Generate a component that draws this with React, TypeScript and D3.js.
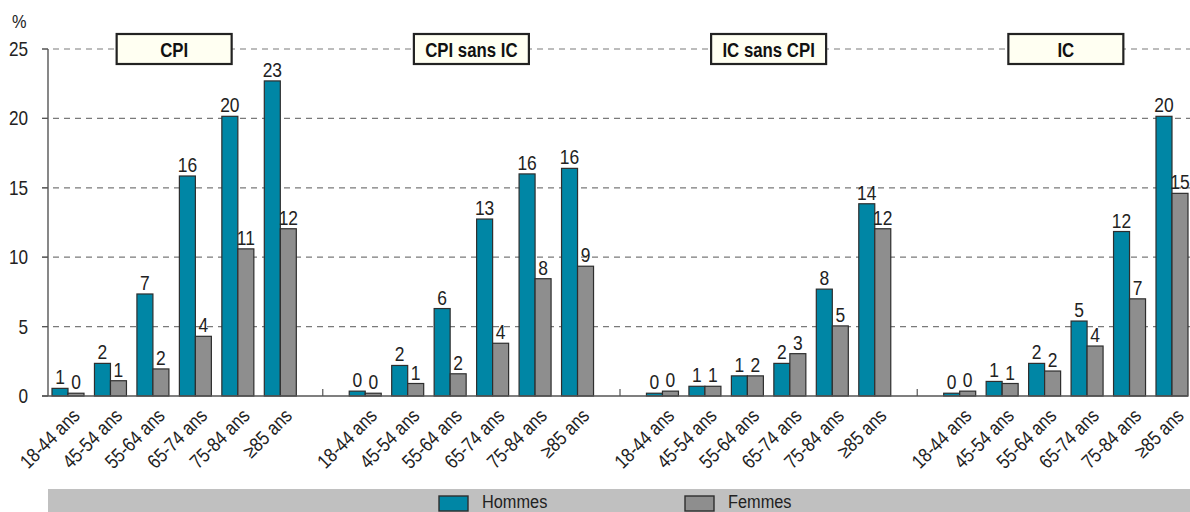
import React from "react";
import * as d3 from "d3";

const panels = ["CPI", "CPI sans IC", "IC sans CPI", "IC"];
const ageGroups = ["18-44 ans", "45-54 ans", "55-64 ans", "65-74 ans", "75-84 ans", "≥85 ans"];
const series = ["Hommes", "Femmes"];

// values (%) per panel, per age group
const hommes = [
  [0.55, 2.35, 7.35, 15.85, 20.15, 22.7],
  [0.35, 2.2, 6.3, 12.75, 16.0, 16.4],
  [0.2, 0.7, 1.45, 2.35, 7.7, 13.85],
  [0.2, 1.05, 2.35, 5.4, 11.85, 20.15],
];
const femmes = [
  [0.2, 1.1, 1.95, 4.3, 10.6, 12.05],
  [0.2, 0.9, 1.6, 3.8, 8.45, 9.35],
  [0.35, 0.7, 1.45, 3.05, 5.05, 12.05],
  [0.35, 0.9, 1.8, 3.6, 7.0, 14.6],
];
const hommesLabels = [
  [1, 2, 7, 16, 20, 23],
  [0, 2, 6, 13, 16, 16],
  [0, 1, 1, 2, 8, 14],
  [0, 1, 2, 5, 12, 20],
];
const femmesLabels = [
  [0, 1, 2, 4, 11, 12],
  [0, 1, 2, 4, 8, 9],
  [0, 1, 2, 3, 5, 12],
  [0, 1, 2, 4, 7, 15],
];
const yTicks = [0, 5, 10, 15, 20, 25];

const W = 1190;
const H = 512;
const FONT = "'Liberation Sans', Arial, sans-serif";
const TEAL = "#0086a5";
const GREY = "#8e8e8e";
const STROKE = "#2e2e2e";

function T(props: {
  x: number;
  y: number;
  size: number;
  sx?: number;
  rotate?: number;
  anchor?: string;
  weight?: string;
  fill?: string;
  children: any;
}) {
  const { x, y, size, sx = 0.83, rotate = 0, anchor = "start", weight = "normal", fill = "#222", children } = props;
  return (
    <text
      transform={`translate(${x},${y}) rotate(${rotate}) scale(${sx},1)`}
      textAnchor={anchor}
      fontSize={size}
      fontWeight={weight}
      fill={fill}
    >
      {children}
    </text>
  );
}

export default function App() {
  const slots: string[] = [];
  panels.forEach((p, pi) => {
    ageGroups.forEach((a) => slots.push(p + "|" + a));
    if (pi < panels.length - 1) slots.push("gap" + pi);
  });

  const x = d3.scaleBand<string>().domain(slots).range([52, 1188]).paddingInner(0.2464).paddingOuter(0);
  const xs = d3.scaleBand<string>().domain(series).range([0, x.bandwidth()]);
  const y = d3.scaleLinear().domain([0, 25]).range([396, 49]);

  const axisLeft = 48;
  const axisRight = 1188;

  const bars: any[] = [];
  const labels: any[] = [];
  const xLabels: any[] = [];
  panels.forEach((p, pi) => {
    ageGroups.forEach((a, ai) => {
      const key = p + "|" + a;
      const x0 = x(key)!;
      [
        { s: "Hommes", v: hommes[pi][ai], l: hommesLabels[pi][ai], c: TEAL },
        { s: "Femmes", v: femmes[pi][ai], l: femmesLabels[pi][ai], c: GREY },
      ].forEach((d) => {
        const bx = x0 + xs(d.s)!;
        bars.push(
          <rect
            key={key + d.s}
            x={bx}
            y={y(d.v)}
            width={xs.bandwidth()}
            height={y(0) - y(d.v)}
            fill={d.c}
            stroke={STROKE}
            strokeWidth={1.2}
          />
        );
        labels.push(
          <T key={key + d.s + "l"} x={bx + xs.bandwidth() / 2} y={y(d.v) - 4} size={21} anchor="middle">
            {d.l}
          </T>
        );
      });
      const cx = x0 + x.bandwidth() / 2;
      xLabels.push(
        <T key={key + "x"} x={cx + 13} y={417} size={20} rotate={-45} anchor="end" sx={0.84}>
          {a}
        </T>
      );
    });
  });

  const titleBoxes = panels.map((p) => {
    const first = x(p + "|" + ageGroups[0])!;
    const last = x(p + "|" + ageGroups[ageGroups.length - 1])! + x.bandwidth();
    const cx = (first + last) / 2;
    return (
      <g key={p + "t"}>
        <rect x={cx - 57.5} y={34} width={115} height={30} fill="#fffff2" stroke="#222" strokeWidth={2.2} />
        <T x={cx} y={57} size={21} sx={0.8} anchor="middle" weight="bold" fill="#111">
          {p}
        </T>
      </g>
    );
  });

  const gapTicks = slots
    .filter((s) => s.startsWith("gap"))
    .map((s) => {
      const cx = x(s)! + x.bandwidth() / 2;
      return <line key={s} x1={cx} x2={cx} y1={y(0) - 7} y2={y(0)} stroke="#555" strokeWidth={1.2} />;
    });

  return (
    <svg
      width={W}
      height={H}
      style={{ position: "absolute", left: 0, top: 0, display: "block", background: "#fff" }}
      fontFamily={FONT}
    >
      <rect width={W} height={H} fill="#fff" />
      {yTicks
        .filter((t) => t > 0)
        .map((t) => (
          <line
            key={"g" + t}
            x1={axisLeft - 6}
            x2={W}
            y1={y(t)}
            y2={y(t)}
            stroke="#7a7a7a"
            strokeWidth={1.2}
            strokeDasharray="6,5"
          />
        ))}
      {yTicks.map((t) => (
        <g key={"t" + t}>
          <line x1={axisLeft - 6} x2={axisLeft} y1={y(t)} y2={y(t)} stroke="#555" strokeWidth={1.2} />
          <T x={28} y={y(t) + 7} size={20} sx={0.86} anchor="end">
            {t}
          </T>
        </g>
      ))}
      <T x={12} y={28} size={19} sx={0.86}>%</T>
      <line x1={axisLeft} x2={axisLeft} y1={y(25)} y2={y(0)} stroke="#555" strokeWidth={1.4} />
      {titleBoxes}
      {bars}
      {labels}
      <line x1={axisLeft - 6} x2={axisRight} y1={y(0)} y2={y(0)} stroke="#555" strokeWidth={1.4} />
      {gapTicks}
      {xLabels}
      <rect x={48} y={489} width={W - 48} height={H - 489} fill="#c0c0c0" />
      {series.map((s, i) => {
        const lx = i === 0 ? 439 : 685;
        return (
          <g key={s + "leg"}>
            <rect x={lx} y={496} width={29} height={15} fill={i === 0 ? TEAL : GREY} stroke={STROKE} strokeWidth={1.4} />
            <T x={lx + 43} y={508} size={19} sx={0.86}>
              {s}
            </T>
          </g>
        );
      })}
    </svg>
  );
}
